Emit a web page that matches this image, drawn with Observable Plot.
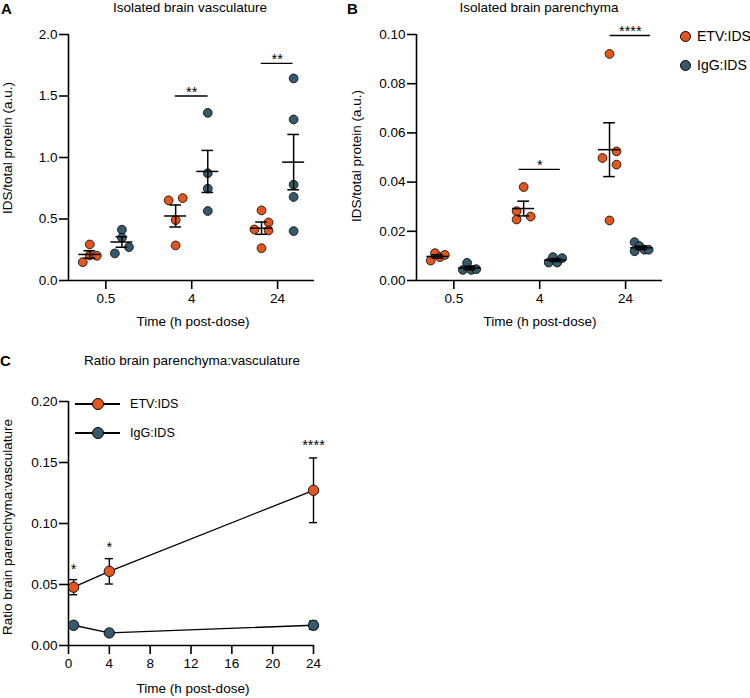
<!DOCTYPE html>
<html><head><meta charset="utf-8">
<script src="https://cdn.jsdelivr.net/npm/d3@7"></script>
<script src="https://cdn.jsdelivr.net/npm/@observablehq/plot@0.6"></script>
<style>
body{margin:0;background:#fff;font-family:"Liberation Sans",Arial,sans-serif;color:#000}
#root{position:relative;width:750px;height:698px;overflow:hidden;background:#fff}
#root svg{position:absolute}
.t{position:absolute;white-space:nowrap;line-height:1}
</style></head><body><div id="root"></div>
<script>
// ---------- data ----------
const timeLabels = ["0.5", "4", "24"];
const groupNames = ["ETV:IDS", "IgG:IDS"];
const groupColors = ["#E4561E", "#365A6C"];

// Panel A: isolated brain vasculature (IDS/total protein, a.u.)
const vascETV = [[0.149, 0.293, 0.204, 0.201], [0.652, 0.670, 0.491, 0.285], [0.570, 0.472, 0.415, 0.407, 0.263]];
const vascETVjit = [[-1, 0, 0, 1], [-1, 1, 0, 0], [0, 1, -1, 1, 0]];
const vascIgG = [[0.220, 0.413, 0.348, 0.271], [1.363, 0.872, 0.747, 0.565], [1.643, 1.309, 0.779, 0.679, 0.402]];
const vascIgGjit = [[-1, 0, 0, 1], [0, 0, 0, 0], [0, 0, 0, 0, 0]];
const vascSigTime = [1, 2];
const vascSigY = [1.5, 1.765];
const vascSigFrom = [-0.19, -0.19];
const vascSigTo = [0.19, 0.18];
const vascSigLabel = ["**", "**"];

// Panel B: isolated brain parenchyma
const parETV = [[0.0081, 0.0111, 0.0095, 0.0104], [0.0380, 0.0282, 0.0248, 0.0260], [0.0921, 0.0498, 0.0525, 0.0471, 0.0244]];
const parETVjit = [[-1, -0.4, 0.3, 1], [0, -1, -1, 1], [0, -1, 1, 1, 0]];
const parIgG = [[0.0043, 0.0072, 0.0043, 0.0046], [0.0073, 0.0095, 0.0073, 0.0091], [0.0156, 0.0140, 0.0119, 0.0125, 0.0125]];
const parIgGjit = [[-1, -0.4, 0.2, 0.9], [-1, -0.4, 0.2, 0.9], [-1, -0.3, -1, 0.4, 1]];
const parSigTime = [1, 2];
const parSigY = [0.0452, 0.0996];
const parSigFrom = [-0.24, -0.18];
const parSigTo = [0.24, 0.29];
const parSigLabel = ["*", "****"];

// Panel C: ratio parenchyma:vasculature (mean ± SEM)
const ratioTimes = [0.5, 4, 24];
const ratioETV = [0.0478, 0.0608, 0.1272];
const ratioETVsem = [0.0062, 0.0104, 0.0265];
const ratioIgG = [0.0166, 0.0103, 0.0166];
const ratioIgGsem = [0.0012, 0.0008, 0.0034];
const ratioStarY = [0.0649, 0.0835, 0.1667];
const ratioStarLabel = ["*", "*", "****"];

// ---------- helpers ----------
const FONT = '"Liberation Sans", Arial, sans-serif';
const root = document.getElementById("root");
function txt(s, cx, cy, {size = 13.5, weight = "normal", rotate = 0, anchor = "middle"} = {}) {
  const d = document.createElement("div");
  d.className = "t";
  d.textContent = s;
  d.style.left = cx + "px";
  d.style.top = cy + "px";
  d.style.fontSize = size + "px";
  d.style.fontWeight = weight;
  d.style.transform = `translate(${anchor === "middle" ? -50 : 0}%,-50%) rotate(${rotate}deg)`;
  root.appendChild(d);
}
function place(svg, left, top) {
  svg.style.left = left + "px";
  svg.style.top = top + "px";
  root.appendChild(svg);
}

const GROUP_OFF = 0.187, JIT = 0.082;
function buildRows(etv, etvJ, igg, iggJ) {
  const pts = [], sum = [];
  [[etv, etvJ, 0], [igg, iggJ, 1]].forEach(([vals, jit, g]) => {
    vals.forEach((arr, t) => {
      const xc = t + (g ? GROUP_OFF : -GROUP_OFF);
      arr.forEach((v, i) => pts.push({x: xc + jit[t][i] * JIT, y: v, g: groupNames[g]}));
      const m = d3.mean(arr), s = d3.deviation(arr) / Math.sqrt(arr.length);
      sum.push({xc, m, lo: m - s, hi: m + s});
    });
  });
  return {pts, sum};
}
function sigRows(time, y, from, to, label) {
  return time.map((t, i) => ({x1: t + from[i], x2: t + to[i], xm: t + (from[i] + to[i]) / 2, y: y[i], label: label[i]}));
}

const xDomain = [-0.435, 2.43];
function dotPanel(rows, sig, yDomain, yTicks, yFmt, width) {
  const AX = 1.6;
  return Plot.plot({
    width, height: 340,
    marginLeft: 68, marginRight: width - 68 - 246, marginTop: 34, marginBottom: 60,
    x: {domain: xDomain, label: null},
    y: {domain: yDomain, label: null},
    color: {domain: groupNames, range: groupColors},
    style: {fontFamily: FONT, fontSize: "13.5px", color: "#000", background: "transparent", overflow: "visible"},
    marks: [
      Plot.ruleY([yDomain[0]], {stroke: "#000", strokeWidth: AX}),
      Plot.ruleX([xDomain[0]], {stroke: "#000", strokeWidth: AX}),
      Plot.axisY(yTicks, {tickFormat: d3.format(yFmt), tickSize: 9, tickPadding: 2, strokeWidth: AX, label: null}),
      Plot.axisX([0, 1, 2], {tickFormat: i => timeLabels[i], tickSize: 9, tickPadding: 4, strokeWidth: AX, label: null}),
      Plot.dot(rows.pts, {x: "x", y: "y", r: 4.4, fill: "g", stroke: "#000", strokeWidth: 0.8}),
      Plot.ruleY(rows.sum, {y: "m", x1: d => d.xc - 0.128, x2: d => d.xc + 0.128, stroke: "#000", strokeWidth: 1.5}),
      Plot.ruleX(rows.sum, {x: "xc", y1: "lo", y2: "hi", stroke: "#000", strokeWidth: 1.5}),
      Plot.ruleY(rows.sum, {y: "lo", x1: d => d.xc - 0.068, x2: d => d.xc + 0.068, stroke: "#000", strokeWidth: 1.5}),
      Plot.ruleY(rows.sum, {y: "hi", x1: d => d.xc - 0.068, x2: d => d.xc + 0.068, stroke: "#000", strokeWidth: 1.5}),
      Plot.ruleY(sig, {y: "y", x1: "x1", x2: "x2", stroke: "#000", strokeWidth: 1.3}),
      Plot.text(sig, {x: "xm", y: "y", text: "label", dy: -4, fontSize: 14.5, fill: "#000"})
    ]
  });
}

// ---------- panel A ----------
const rowsA = buildRows(vascETV, vascETVjit, vascIgG, vascIgGjit);
place(dotPanel(rowsA, sigRows(vascSigTime, vascSigY, vascSigFrom, vascSigTo, vascSigLabel),
  [0, 2], [0, 0.5, 1, 1.5, 2], ".1f", 330), 0, 0);

// ---------- panel B ----------
const rowsB = buildRows(parETV, parETVjit, parIgG, parIgGjit);
place(dotPanel(rowsB, sigRows(parSigTime, parSigY, parSigFrom, parSigTo, parSigLabel),
  [0, 0.1], [0, 0.02, 0.04, 0.06, 0.08, 0.1], ".2f", 332), 348, 0);

// ---------- panel C ----------
const ratioRows = [];
ratioTimes.forEach((t, i) => {
  ratioRows.push({t, v: ratioETV[i], lo: ratioETV[i] - ratioETVsem[i], hi: ratioETV[i] + ratioETVsem[i], g: groupNames[0]});
  ratioRows.push({t, v: ratioIgG[i], lo: ratioIgG[i] - ratioIgGsem[i], hi: ratioIgG[i] + ratioIgGsem[i], g: groupNames[1]});
});
const starRows = ratioTimes.map((t, i) => ({t, y: ratioStarY[i], label: ratioStarLabel[i]}));
const CAP = 0.4;
const plotC = Plot.plot({
  width: 355, height: 331,
  marginLeft: 68, marginRight: 355 - 68 - 245, marginTop: 34, marginBottom: 53,
  x: {domain: [0, 24], label: null},
  y: {domain: [0, 0.2], label: null},
  color: {domain: groupNames, range: groupColors},
  style: {fontFamily: FONT, fontSize: "13.5px", color: "#000", background: "transparent", overflow: "visible"},
  marks: [
    Plot.ruleY([0], {stroke: "#000", strokeWidth: 1.6}),
    Plot.ruleX([0], {stroke: "#000", strokeWidth: 1.6}),
    Plot.axisY([0, 0.05, 0.1, 0.15, 0.2], {tickFormat: d3.format(".2f"), tickSize: 9, tickPadding: 2, strokeWidth: 1.6, label: null}),
    Plot.axisX([0, 4, 8, 12, 16, 20, 24], {tickSize: 9, tickPadding: 4, strokeWidth: 1.6, label: null}),
    Plot.line(ratioRows, {x: "t", y: "v", z: "g", stroke: "#000", strokeWidth: 1.3}),
    Plot.ruleX(ratioRows, {x: "t", y1: "lo", y2: "hi", stroke: "#000", strokeWidth: 1.4}),
    Plot.ruleY(ratioRows, {y: "lo", x1: d => d.t - CAP, x2: d => d.t + CAP, stroke: "#000", strokeWidth: 1.4}),
    Plot.ruleY(ratioRows, {y: "hi", x1: d => d.t - CAP, x2: d => d.t + CAP, stroke: "#000", strokeWidth: 1.4}),
    Plot.dot(ratioRows, {x: "t", y: "v", r: 5.2, fill: "g", stroke: "#000", strokeWidth: 0.9}),
    Plot.text(starRows, {x: "t", y: "y", text: "label", dy: 3.5, fontSize: 14.5, fill: "#000"})
  ]
});
place(plotC, 0, 367);

// ---------- text ----------
txt("A", 1, 8, {size: 15, weight: "bold", anchor: "start"});
txt("B", 347, 8, {size: 15, weight: "bold", anchor: "start"});
txt("C", 0, 360, {size: 15, weight: "bold", anchor: "start"});
txt("Isolated brain vasculature", 190, 8);
txt("Isolated brain parenchyma", 539, 8);
txt("Ratio brain parenchyma:vasculature", 192, 361);
txt("IDS/total protein (a.u.)", 8, 148, {rotate: -90});
txt("IDS/total protein (a.u.)", 357, 156, {rotate: -90});
txt("Ratio brain parenchyma:vasculature", 8, 527, {rotate: -90});
txt("Time (h post-dose)", 193, 322);
txt("Time (h post-dose)", 540, 322);
txt("Time (h post-dose)", 193, 689);

// legend for A/B
groupNames.forEach((g, i) => {
  const cy = [36, 65][i];
  const c = document.createElement("div");
  c.style.cssText = `position:absolute;left:${685.7 - 5.5}px;top:${cy - 5.5}px;width:9px;height:9px;border-radius:50%;border:1px solid #000;background:${groupColors[i]}`;
  root.appendChild(c);
  txt(g, 697, cy, {size: 14, anchor: "start"});
});
// legend for C
groupNames.forEach((g, i) => {
  const cy = [404, 433][i];
  const l = document.createElement("div");
  l.style.cssText = `position:absolute;left:75px;top:${cy - 0.65}px;width:45px;height:1.3px;background:#000`;
  root.appendChild(l);
  const c = document.createElement("div");
  c.style.cssText = `position:absolute;left:${97.7 - 6}px;top:${cy - 6}px;width:10px;height:10px;border-radius:50%;border:1px solid #000;background:${groupColors[i]}`;
  root.appendChild(c);
  txt(g, 130, cy, {size: 12.6, anchor: "start"});
});
</script></body></html>
